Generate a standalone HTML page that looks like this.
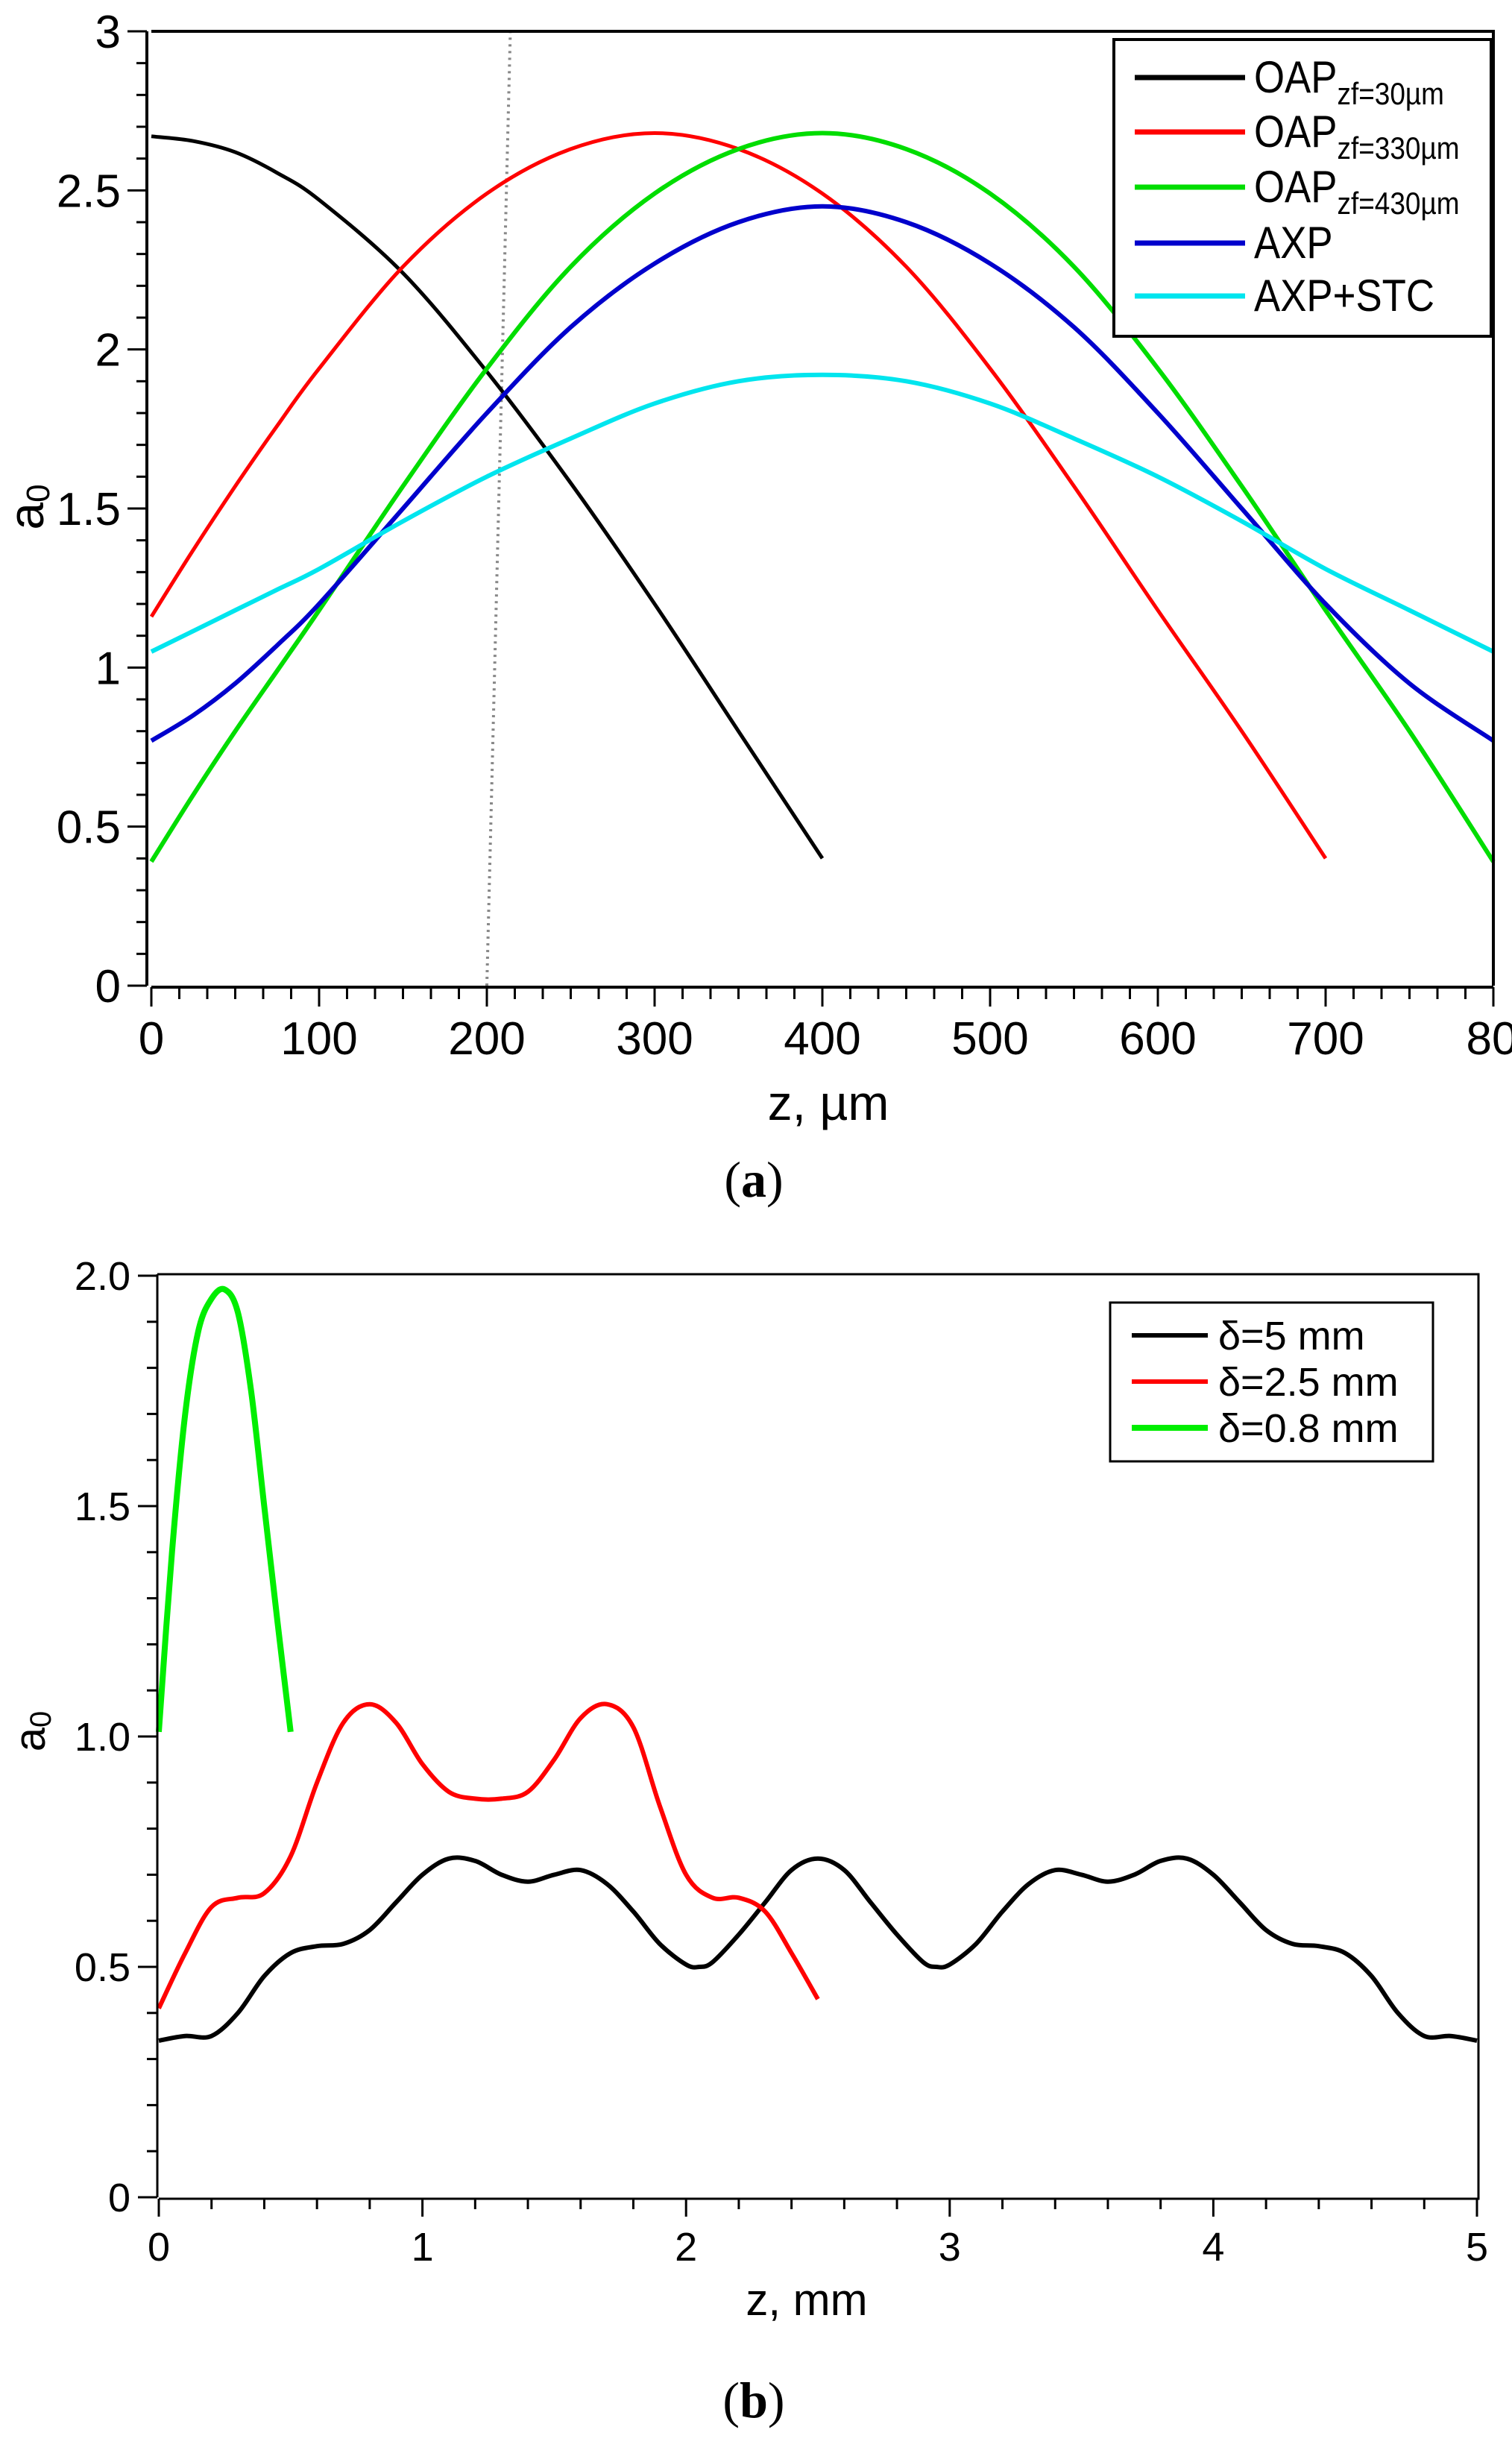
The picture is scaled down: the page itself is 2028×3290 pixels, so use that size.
<!DOCTYPE html>
<html><head><meta charset="utf-8"><style>
html,body{margin:0;padding:0;background:#fff}
svg{display:block}
text{font-family:"Liberation Sans",sans-serif;fill:#000}
</style></head><body>
<svg id="s" width="2028" height="3290" viewBox="0 0 2028 3290" xmlns="http://www.w3.org/2000/svg">
<g id="ga"></g>
<g id="gb"></g>
<text x="1011" y="1605" text-anchor="middle" style="font-family:'Liberation Serif',serif;font-size:68px">(<tspan font-weight="bold">a</tspan>)</text>
<text x="1011" y="3242" text-anchor="middle" style="font-family:'Liberation Serif',serif;font-size:68px">(<tspan font-weight="bold">b</tspan>)</text>
</svg>
<script>
// ---- Chart A data ----
const aZ = [0,25,50,75,100,150,200,250,300,350,400,450,500,550,600,650,700,750,800];
const aBlack = [2.67,2.655,2.62,2.555,2.47,2.24,1.93,1.58,1.20,0.80,0.40];
const aRed = [1.16,1.37,1.57,1.76,1.94,2.26,2.49,2.63,2.68,2.63,2.49,2.26,1.94,1.57,1.18,0.80,0.40];
const aGreen = [0.39,0.60,0.80,0.99,1.18,1.57,1.94,2.26,2.49,2.63,2.68,2.63,2.49,2.26,1.94,1.57,1.18,0.80,0.39];
const aBlue = [0.77,0.85,0.95,1.07,1.20,1.50,1.80,2.07,2.27,2.40,2.45,2.40,2.27,2.07,1.80,1.50,1.20,0.95,0.77];
const aCyan = [1.05,1.115,1.18,1.245,1.31,1.46,1.60,1.72,1.83,1.90,1.92,1.90,1.83,1.72,1.60,1.46,1.31,1.18,1.05];
const aXTicks = [0,100,200,300,400,500,600,700,800];
const aXLabels = ["0","100","200","300","400","500","600","700","80"];
const aYTicks = [0,0.5,1,1.5,2,2.5,3];
const aYLabels = ["0","0.5","1","1.5","2","2.5","3"];
// ---- Chart B data ----
const bZ5 = [0,0.1,0.2,0.3,0.4,0.5,0.6,0.7,0.8,0.9,1.0,1.1,1.2,1.3,1.4,1.5,1.6,1.7,1.8,1.9,2.0,2.05,2.1,2.2,2.3,2.4,2.5,2.6,2.7,2.8,2.9,2.95,3.0,3.1,3.2,3.3,3.4,3.5,3.6,3.7,3.8,3.9,4.0,4.1,4.2,4.3,4.4,4.5,4.6,4.7,4.8,4.9,5.0];
const bBlack = [0.34,0.35,0.35,0.40,0.48,0.53,0.545,0.55,0.58,0.64,0.70,0.735,0.73,0.70,0.685,0.70,0.71,0.68,0.62,0.55,0.505,0.50,0.51,0.57,0.64,0.71,0.735,0.71,0.64,0.57,0.51,0.50,0.505,0.55,0.62,0.68,0.71,0.70,0.685,0.70,0.73,0.735,0.70,0.64,0.58,0.55,0.545,0.53,0.48,0.40,0.35,0.35,0.34];
const bZ25 = [0,0.1,0.2,0.3,0.4,0.5,0.6,0.7,0.8,0.9,1.0,1.1,1.2,1.3,1.4,1.5,1.6,1.7,1.8,1.9,2.0,2.1,2.2,2.3,2.4,2.5];
const bRed = [0.41,0.53,0.63,0.65,0.66,0.74,0.90,1.03,1.07,1.03,0.94,0.88,0.865,0.865,0.88,0.95,1.04,1.07,1.02,0.85,0.70,0.65,0.65,0.62,0.53,0.43];
const bZ08 = [0,0.05,0.1,0.15,0.2,0.25,0.3,0.35,0.4,0.45,0.5];
const bGreen = [1.01,1.40,1.70,1.88,1.95,1.97,1.92,1.75,1.50,1.25,1.01];
const bXTicks = [0,1,2,3,4,5];
const bYTicks = [0,0.5,1.0,1.5,2.0];
const bYLabels = ["0","0.5","1.0","1.5","2.0"];

const NS="http://www.w3.org/2000/svg";
function mk(parent,tag,attrs,txt){const e=document.createElementNS(NS,tag);for(const k in attrs)e.setAttribute(k,attrs[k]);if(txt!==undefined)e.textContent=txt;parent.appendChild(e);return e;}
function smooth(pts){let d="M"+pts[0][0].toFixed(1)+","+pts[0][1].toFixed(1);
 for(let i=0;i<pts.length-1;i++){const p0=pts[i-1]||pts[i],p1=pts[i],p2=pts[i+1],p3=pts[i+2]||p2;
 const c1=[p1[0]+(p2[0]-p0[0])/6,p1[1]+(p2[1]-p0[1])/6],c2=[p2[0]-(p3[0]-p1[0])/6,p2[1]-(p3[1]-p1[1])/6];
 d+=" C"+c1.map(v=>v.toFixed(1))+" "+c2.map(v=>v.toFixed(1))+" "+p2.map(v=>v.toFixed(1));}return d;}

// ---------- Chart A ----------
(function(){
const g=document.getElementById('ga');
const L=203,R=2003,T=42,B=1322;
const X=z=>L+(z/800)*(R-L), Y=v=>B-(v/3)*(B-T);
const dl=mk(g,'line',{x1:X(200),y1:B,x2:X(214),y2:T,stroke:'#888','stroke-width':4,'stroke-dasharray':'3 6'});


const series=[[aBlack,'#000'],[aRed,'#ff0000'],[aGreen,'#00dd00'],[aBlue,'#0000cc'],[aCyan,'#00e5ee']];
const names=['series-oap-30','series-oap-330','series-oap-430','series-axp','series-axp-stc'];
series.forEach((s,i)=>{const pts=s[0].map((v,j)=>[X(aZ[j]),Y(v)]);
 const p=mk(g,'path',{d:smooth(pts),fill:'none',stroke:s[1],'stroke-width':i>=2?6:5});
 
 });
const ax=mk(g,'path',{d:`M${L-6},${T} V${B} M${L},${B+2} H${R} M${L},${T} H${R} V${B}`,stroke:'#000','stroke-width':4,fill:'none'});


for(let v=0;v<=3.0001;v+=0.1){const yy=Y(v);const major=Math.abs(v*2-Math.round(v*2))<1e-6;
 mk(g,'line',{x1:L-6-(major?26:14),y1:yy,x2:L-6,y2:yy,stroke:'#000','stroke-width':3});}
aYTicks.forEach((v,i)=>{const t=mk(g,'text',{x:162,y:Y(v)+22,'text-anchor':'end','font-size':62},aYLabels[i]);
 
 });
for(let k=0;k<=48;k++){const z=k*800/48;const major=k%6===0;
 mk(g,'line',{x1:X(z),y1:B+2,x2:X(z),y2:B+(major?28:18),stroke:'#000','stroke-width':3});}
aXTicks.forEach((v,i)=>{const t=mk(g,'text',{x:X(v)+(i===8?-2:0),y:1414,'text-anchor':'middle','font-size':62},aXLabels[i]);
 
 });
const xt=mk(g,'text',{x:1111,y:1502,'text-anchor':'middle','font-size':66},'z, µm');


const yt=mk(g,'text',{transform:'translate(58,680) rotate(-90)','text-anchor':'middle','font-size':66},'a');


mk(yt,'tspan',{'font-size':44,dy:8},'0');
const lg=mk(g,'g',{});


mk(lg,'rect',{x:1494,y:53,width:506,height:398,fill:'#fff',stroke:'#000','stroke-width':4});
const labels=[['OAP','zf=30µm'],['OAP','zf=330µm'],['OAP','zf=430µm'],['AXP',''],['AXP+STC','']];
const ly=[104,177,251,326,397];
series.forEach((s,i)=>{const e=mk(lg,'g',{});
 
 
 mk(e,'line',{x1:1522,y1:ly[i],x2:1670,y2:ly[i],stroke:s[1],'stroke-width':7});
 const t=mk(e,'text',{transform:`translate(1682,${ly[i]+20}) scale(0.88,1)`,'font-size':60},labels[i][0]);
 if(labels[i][1])mk(t,'tspan',{'font-size':42,dy:16},labels[i][1]);});
})();

// ---------- Chart B ----------
(function(){
const g=document.getElementById('gb');
const L=213,R=1981,T=1711,B=2947;
const X=z=>L+(z/5)*(R-L), Y=v=>B-(v/2)*(B-T);
const series=[[bZ5,bBlack,'#000'],[bZ25,bRed,'#ff0000'],[bZ08,bGreen,'#00ee00']];
const names=['series-delta-5','series-delta-2-5','series-delta-0-8'];
series.forEach((s,i)=>{const pts=s[1].map((v,j)=>[X(s[0][j]),Y(v)]);
 const p=mk(g,'path',{d:smooth(pts),fill:'none',stroke:s[2],'stroke-width':i===2?8:6});
 
 });
const ax=mk(g,'path',{d:`M211,1709 V${B} M${L},${B+2} H1983 V1709 H211`,stroke:'#000','stroke-width':3,fill:'none'});


for(let k=0;k<=20;k++){const v=k*0.1;const yy=Y(v);const major=k%5===0;
 mk(g,'line',{x1:211-(major?26:14),y1:yy,x2:211,y2:yy,stroke:'#000','stroke-width':3});}
bYTicks.forEach((v,i)=>{const t=mk(g,'text',{x:175,y:Y(v)+19,'text-anchor':'end','font-size':54},bYLabels[i]);
 
 });
for(let k=0;k<=25;k++){const z=k*0.2;const major=k%5===0;
 mk(g,'line',{x1:X(z),y1:B+2,x2:X(z),y2:B+(major?26:16),stroke:'#000','stroke-width':3});}
bXTicks.forEach((v,i)=>{const t=mk(g,'text',{x:X(v),y:3032,'text-anchor':'middle','font-size':54},String(v));
 
 });
const xt=mk(g,'text',{x:1082,y:3105,'text-anchor':'middle','font-size':60},'z, mm');


const yt=mk(g,'text',{transform:'translate(60,2322) rotate(-90)','text-anchor':'middle','font-size':58},'a');


mk(yt,'tspan',{'font-size':40,dy:8},'0');
const lg=mk(g,'g',{});


mk(lg,'rect',{x:1489,y:1747,width:433,height:213,fill:'#fff',stroke:'#000','stroke-width':3});
const labels=['δ=5 mm','δ=2.5 mm','δ=0.8 mm'];
const ly=[1791,1853,1915];
series.forEach((s,i)=>{const e=mk(lg,'g',{});
 
 
 mk(e,'line',{x1:1518,y1:ly[i],x2:1620,y2:ly[i],stroke:s[2],'stroke-width':i===2?8:6});
 mk(e,'text',{x:1634,y:ly[i]+19,'font-size':54},labels[i]);});
})();
</script>
</body></html>
